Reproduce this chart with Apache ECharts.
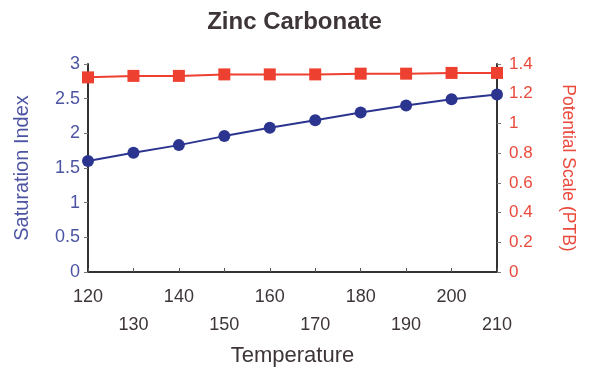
<!DOCTYPE html>
<html>
<head>
<meta charset="utf-8">
<script src="https://cdn.jsdelivr.net/npm/echarts@6/dist/echarts.min.js"></script>
<style>
  html, body { margin: 0; padding: 0; background: #fff; }
  #chart { width: 589px; height: 374px; }
</style>
</head>
<body>
<div id="chart"></div>
<script>
// Zinc Carbonate: saturation index (left) and potential scale (right) vs temperature
const temps = [120, 130, 140, 150, 160, 170, 180, 190, 200, 210];
const saturation = [1.60, 1.72, 1.83, 1.96, 2.08, 2.19, 2.30, 2.40, 2.49, 2.56];
const ptb = [1.31, 1.32, 1.32, 1.33, 1.33, 1.33, 1.335, 1.335, 1.34, 1.34];

const blue = "#2b3590", red = "#ee4030";
const blueTxt = "#4d55a3", redTxt = "#ea4a3c";
const font = "Liberation Sans, Arial, sans-serif";

const chart = echarts.init(document.getElementById("chart"));
chart.setOption({
  animation: false,
  textStyle: { fontFamily: font },
  title: {
    text: "Zinc Carbonate", left: "center", top: 5,
    textStyle: { fontSize: 24, fontWeight: "bold", color: "#3d3538", fontFamily: font },
  },
  grid: { left: 88, right: 92, top: 64, bottom: 102 },
  xAxis: {
    type: "value", min: 120, max: 210, interval: 10,
    name: "Temperature", nameLocation: "middle", nameGap: 73,
    nameTextStyle: { fontSize: 22, color: "#3d3538", fontFamily: font },
    axisLine: { lineStyle: { color: "#333", width: 2 } },
    axisTick: { inside: true, length: 4, lineStyle: { color: "#555" } },
    splitLine: { show: false },
    axisLabel: {
      fontSize: 18, color: "#3d3538", margin: 11, lineHeight: 28,
      formatter: v => ((v - 120) / 10) % 2 ? "\n" + v : String(v),
    },
  },
  yAxis: [
    {
      type: "value", min: 0, max: 3, interval: 0.5, position: "left",
      name: "Saturation Index", nameLocation: "middle", nameGap: 56,
      nameTextStyle: { fontSize: 20, color: blueTxt, fontFamily: font },
      axisLine: { show: true, lineStyle: { color: "#333", width: 2 } },
      axisTick: { show: true, length: 4, lineStyle: { color: "#777" } },
      splitLine: { show: false },
      axisLabel: { fontSize: 18, color: blueTxt, margin: 8 },
    },
    {
      type: "value", min: 0, max: 1.4, interval: 0.2, position: "right",
      name: "Potential Scale (PTB)", nameLocation: "middle", nameGap: 62, nameRotate: -90,
      nameTextStyle: { fontSize: 17.5, color: redTxt, fontFamily: font },
      axisLine: { show: true, lineStyle: { color: "#333", width: 2 } },
      axisTick: { show: true, length: 4, lineStyle: { color: "#777" } },
      splitLine: { show: false },
      axisLabel: { fontSize: 17, color: redTxt, margin: 12 },
    },
  ],
  series: [
    {
      type: "line", yAxisIndex: 0, data: temps.map((t, i) => [t, saturation[i]]),
      symbol: "circle", symbolSize: 12,
      lineStyle: { color: blue, width: 2 }, itemStyle: { color: blue },
    },
    {
      type: "line", yAxisIndex: 1, data: temps.map((t, i) => [t, ptb[i]]),
      symbol: "rect", symbolSize: 12,
      lineStyle: { color: red, width: 2 }, itemStyle: { color: red },
    },
  ],
});
</script>
</body>
</html>
